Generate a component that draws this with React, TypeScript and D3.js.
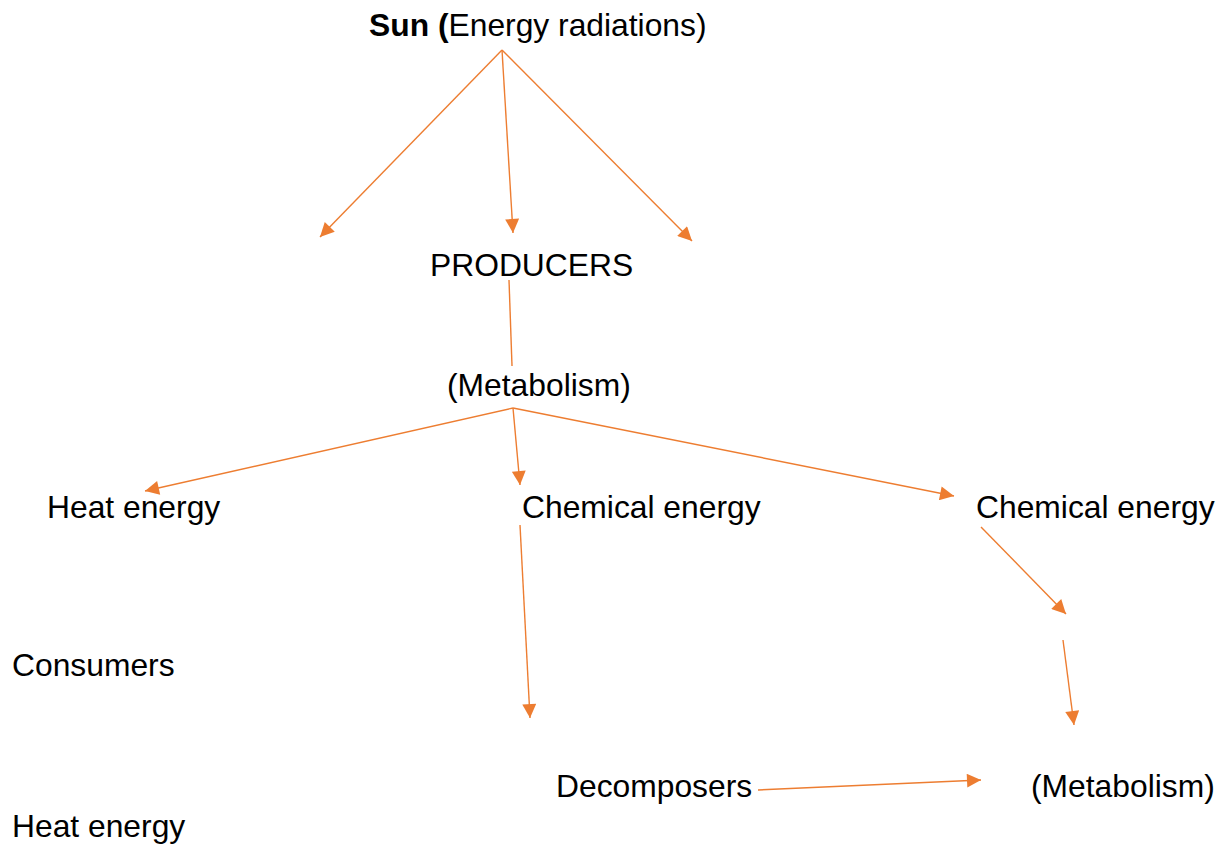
import React, { useEffect, useRef } from 'react';
import * as d3 from 'd3';

// text nodes: [label, x, baseline y]
const labels = [
  { id: 'producers', text: 'PRODUCERS', x: 430, y: 276 },
  { id: 'metab1', text: '(Metabolism)', x: 447, y: 396 },
  { id: 'heat1', text: 'Heat energy', x: 47, y: 518 },
  { id: 'chem1', text: 'Chemical energy', x: 522, y: 518 },
  { id: 'chem2', text: 'Chemical energy', x: 976, y: 518 },
  { id: 'consumers', text: 'Consumers', x: 12, y: 676 },
  { id: 'decomp', text: 'Decomposers', x: 556, y: 797 },
  { id: 'metab2', text: '(Metabolism)', x: 1031, y: 797 },
  { id: 'heat2', text: 'Heat energy', x: 12, y: 837 },
];

// arrows: from -> to, head = draw arrowhead at end
const arrows = [
  { x1: 502, y1: 50, x2: 320, y2: 237, head: true },
  { x1: 502, y1: 50, x2: 513, y2: 233, head: true },
  { x1: 502, y1: 50, x2: 692, y2: 241, head: true },
  { x1: 509, y1: 280, x2: 512, y2: 366, head: false },
  { x1: 513, y1: 408, x2: 145, y2: 491, head: true },
  { x1: 513, y1: 408, x2: 520, y2: 485, head: true },
  { x1: 513, y1: 408, x2: 954, y2: 496, head: true },
  { x1: 520, y1: 525, x2: 530, y2: 718, head: true },
  { x1: 981, y1: 527, x2: 1066, y2: 614, head: true },
  { x1: 1063, y1: 640, x2: 1074, y2: 725, head: true },
  { x1: 758, y1: 790, x2: 981, y2: 780, head: true },
];

const ORANGE = '#ED7D31';
const FONT = '"Liberation Sans", Arial, sans-serif';
const SIZE = 31.8;

export default function App() {
  const ref = useRef<SVGSVGElement>(null);

  useEffect(() => {
    const svg = d3.select(ref.current);
    svg.selectAll('*').remove();

    svg.append('defs').append('marker')
      .attr('id', 'head')
      .attr('viewBox', '0 0 10 10')
      .attr('refX', 10)
      .attr('refY', 5)
      .attr('markerUnits', 'userSpaceOnUse')
      .attr('markerWidth', 16)
      .attr('markerHeight', 14)
      .attr('orient', 'auto')
      .append('path')
      .attr('d', 'M0,0 L10,5 L0,10 Z')
      .attr('fill', ORANGE);

    const line = d3.line();
    svg.append('g').selectAll('path')
      .data(arrows)
      .join('path')
      .attr('d', d => line([[d.x1, d.y1], [d.x2, d.y2]]))
      .attr('fill', 'none')
      .attr('stroke', ORANGE)
      .attr('stroke-width', 1.4)
      .attr('marker-end', d => (d.head ? 'url(#head)' : null));

    const title = svg.append('text')
      .attr('x', 369)
      .attr('y', 36)
      .attr('font-family', FONT)
      .attr('font-size', SIZE)
      .attr('fill', '#000');
    title.append('tspan').attr('font-weight', 'bold').text('Sun (');
    title.append('tspan').text('Energy radiations)');

    svg.append('g').selectAll('text')
      .data(labels)
      .join('text')
      .attr('x', d => d.x)
      .attr('y', d => d.y)
      .attr('font-family', FONT)
      .attr('font-size', SIZE)
      .attr('fill', '#000')
      .text(d => d.text);
  }, []);

  return (
    <svg
      ref={ref}
      width={1225}
      height={846}
      style={{ position: 'absolute', left: 0, top: 0, background: '#fff' }}
    />
  );
}
